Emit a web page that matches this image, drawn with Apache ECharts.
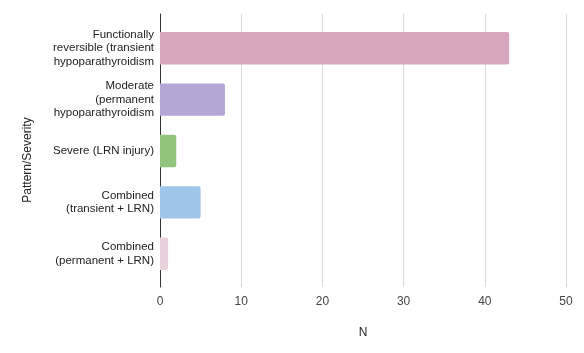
<!DOCTYPE html>
<html>
<head>
<meta charset="utf-8">
<script src="https://cdn.jsdelivr.net/npm/echarts@6/dist/echarts.min.js"></script>
<style>
  html, body { margin: 0; padding: 0; background: #fff; }
  #chart { width: 584px; height: 353px; }
</style>
</head>
<body>
<div id="chart"></div>
<script>
// categories, top to bottom
var categories = [
  'Functionally\nreversible (transient\nhypoparathyroidism',
  'Moderate\n(permanent\nhypoparathyroidism',
  'Severe (LRN injury)',
  'Combined\n(transient + LRN)',
  'Combined\n(permanent + LRN)'
];
var counts = [43, 8, 2, 5, 1];
var barColors = ['#d5a6bd', '#b4a7d6', '#93c47d', '#9fc5e8', '#ead1dc'];

var font = 'Liberation Sans, Arial, sans-serif';
var chart = echarts.init(document.getElementById('chart'));
chart.setOption({
  animation: false,
  textStyle: { fontFamily: font },
  // grid 0: frame, gridlines, x labels; grid 1: bars with padded bands
  grid: [
    { left: 160, right: 18, top: 14, bottom: 66 },
    { left: 160, right: 18, top: 22.5, bottom: 73.5 }
  ],
  xAxis: [{
    gridIndex: 0,
    type: 'value',
    min: 0,
    max: 50,
    interval: 10,
    name: 'N',
    nameLocation: 'middle',
    nameGap: 40,
    nameTextStyle: { color: '#222', fontSize: 12 },
    axisLine: { show: false },
    axisTick: { show: false },
    axisLabel: { color: '#444', fontSize: 12, margin: 9 },
    splitLine: { lineStyle: { color: '#d9d9d9', width: 1 } }
  }, {
    gridIndex: 1,
    type: 'value',
    min: 0,
    max: 50,
    show: false
  }],
  yAxis: [{
    gridIndex: 0,
    type: 'value',
    min: 0,
    max: 1,
    axisLine: { show: true, lineStyle: { color: '#333', width: 1 } },
    axisTick: { show: false },
    axisLabel: { show: false },
    splitLine: { show: false }
  }, {
    gridIndex: 1,
    type: 'category',
    inverse: true,
    data: categories,
    axisLine: { show: false },
    axisTick: { show: false },
    axisLabel: { color: '#222', fontSize: 11.5, lineHeight: 13.5, margin: 6 }
  }],
  graphic: [{
    type: 'text',
    x: 28,
    y: 160,
    rotation: Math.PI / 2,
    style: {
      text: 'Pattern/Severity',
      fill: '#222',
      font: '12px ' + font,
      align: 'center',
      verticalAlign: 'middle'
    }
  }],
  series: [{
    type: 'bar',
    xAxisIndex: 1,
    yAxisIndex: 1,
    data: counts.map(function (v, i) {
      return { value: v, itemStyle: { color: barColors[i] } };
    }),
    barWidth: '63%',
    itemStyle: { borderRadius: [0, 2, 2, 0] }
  }]
});
</script>
</body>
</html>
